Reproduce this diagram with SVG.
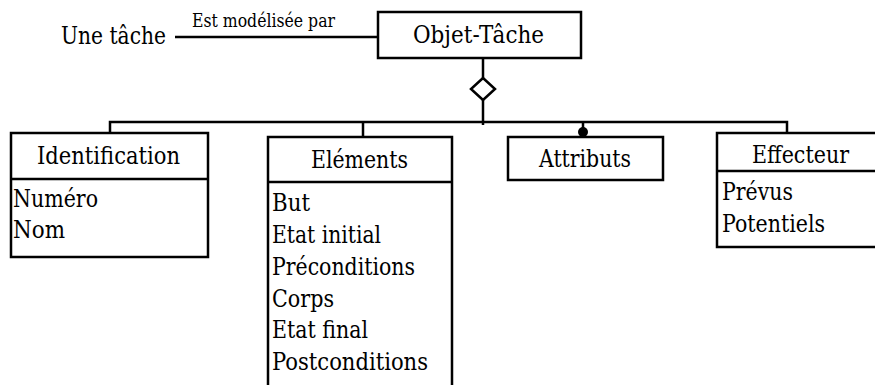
<svg xmlns="http://www.w3.org/2000/svg" width="875" height="385" viewBox="0 0 875 385">
<style>
  text { font-family: 'DejaVu Serif', 'Liberation Serif', serif; fill: #000; }
  .t { font-size: 24px; }
  .s { font-size: 18px; }
  .box { fill: #fff; stroke: #000; stroke-width: 2.5; }
  .ln { fill: none; stroke: #000; stroke-width: 2.5; }
</style>
<rect width="875" height="385" fill="#fff"/>
<g id="connectors">
  <line class="ln" x1="175" y1="37" x2="378" y2="37"/>
  <line class="ln" x1="483" y1="58" x2="483" y2="78"/>
  <polygon class="ln" points="483,78 495,89 483,100 471,89"/>
  <line class="ln" x1="483" y1="100" x2="483" y2="125"/>
  <polyline class="ln" points="110,133 110,122 787,122 787,133"/>
  <line class="ln" x1="363" y1="122" x2="363" y2="137"/>
  <line class="ln" x1="583" y1="122" x2="583" y2="137"/>
  <circle cx="583" cy="132" r="5" fill="#000"/>
  <text class="s" x="192" y="27" textLength="143" lengthAdjust="spacingAndGlyphs">Est modélisée par</text>
</g>
<g id="une-tache">
  <text class="t" x="61" y="44" textLength="105" lengthAdjust="spacingAndGlyphs">Une tâche</text>
</g>
<g id="objet-tache">
  <rect class="box" x="378" y="12" width="203" height="46"/>
  <text class="t" x="413" y="43" textLength="131" lengthAdjust="spacingAndGlyphs">Objet-Tâche</text>
</g>
<g id="identification">
  <rect class="box" x="11" y="133" width="197" height="124"/>
  <line class="ln" x1="11" y1="179" x2="208" y2="179"/>
  <text class="t" x="37" y="164" textLength="143" lengthAdjust="spacingAndGlyphs">Identification</text>
  <text class="t" x="13" y="207" textLength="85" lengthAdjust="spacingAndGlyphs">Numéro</text>
  <text class="t" x="13" y="238" textLength="52" lengthAdjust="spacingAndGlyphs">Nom</text>
</g>
<g id="elements">
  <path class="box" d="M268,390 V137 H452 V390"/>
  <line class="ln" x1="268" y1="182" x2="452" y2="182"/>
  <text class="t" x="311" y="168" textLength="97" lengthAdjust="spacingAndGlyphs">Eléments</text>
  <text class="t" x="272" y="211" textLength="38" lengthAdjust="spacingAndGlyphs">But</text>
  <text class="t" x="272" y="243" textLength="109" lengthAdjust="spacingAndGlyphs">Etat initial</text>
  <text class="t" x="272" y="275" textLength="143" lengthAdjust="spacingAndGlyphs">Préconditions</text>
  <text class="t" x="272" y="307" textLength="62" lengthAdjust="spacingAndGlyphs">Corps</text>
  <text class="t" x="272" y="338" textLength="96" lengthAdjust="spacingAndGlyphs">Etat final</text>
  <text class="t" x="272" y="370" textLength="156" lengthAdjust="spacingAndGlyphs">Postconditions</text>
</g>
<g id="attributs">
  <rect class="box" x="508" y="137" width="155" height="43"/>
  <text class="t" x="539" y="167" textLength="92" lengthAdjust="spacingAndGlyphs">Attributs</text>
</g>
<g id="effecteur">
  <rect class="box" x="717" y="133" width="166" height="114"/>
  <line class="ln" x1="717" y1="171" x2="883" y2="171"/>
  <text class="t" x="752" y="163" textLength="97" lengthAdjust="spacingAndGlyphs">Effecteur</text>
  <text class="t" x="722" y="200" textLength="71" lengthAdjust="spacingAndGlyphs">Prévus</text>
  <text class="t" x="722" y="232" textLength="103" lengthAdjust="spacingAndGlyphs">Potentiels</text>
</g>
</svg>
